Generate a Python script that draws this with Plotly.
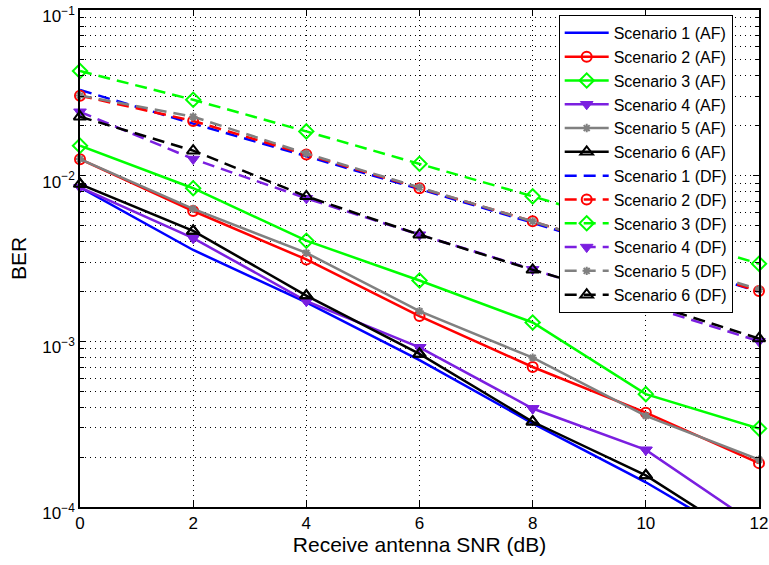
import plotly.graph_objects as go

snr = [0, 2, 4, 6, 8, 10, 12]

s1_af = [0.0085, 0.00356, 0.00172, 0.00077, 0.00032, 0.000141, 0.000056]
s2_af = [0.01257, 0.00612, 0.00312, 0.00142, 0.00070, 0.000371, 0.000184]
s3_af = [0.01515, 0.0084, 0.00405, 0.00233, 0.00130, 0.00048, 0.000298]
s4_af = [0.0085, 0.0042, 0.00175, 0.00092, 0.000393, 0.000221, 0.000076]
s5_af = [0.0126, 0.0063, 0.00342, 0.00152, 0.000797, 0.000355, 0.000193]
s6_af = [0.0089, 0.00464, 0.00189, 0.00084, 0.000327, 0.000155, 0.000057]

s1_df = [0.0329, 0.0206, 0.0131, 0.0083, 0.0052, 0.0032, 0.00200]
s2_df = [0.0304, 0.0214, 0.0134, 0.0084, 0.0053, 0.00325, 0.00201]
s3_df = [0.0428, 0.0287, 0.0185, 0.0118, 0.0075, 0.0047, 0.00294]
s4_df = [0.0243, 0.0126, 0.0073, 0.0044, 0.00272, 0.00165, 0.00100]
s5_df = [0.0305, 0.0227, 0.0136, 0.0085, 0.0053, 0.0033, 0.00206]
s6_df = [0.0227, 0.01416, 0.0075, 0.0044, 0.0027, 0.00171, 0.00104]

names = ["Scenario 1 (AF)", "Scenario 2 (AF)", "Scenario 3 (AF)", "Scenario 4 (AF)",
         "Scenario 5 (AF)", "Scenario 6 (AF)", "Scenario 1 (DF)", "Scenario 2 (DF)",
         "Scenario 3 (DF)", "Scenario 4 (DF)", "Scenario 5 (DF)", "Scenario 6 (DF)"]
series = [s1_af, s2_af, s3_af, s4_af, s5_af, s6_af, s1_df, s2_df, s3_df, s4_df, s5_df, s6_df]

colors = ["#0000FF", "#FF0000", "#00FF00", "#7B1FE0", "#808080", "#000000"]
symbols = [None, "circle-open", "diamond-open", "triangle-down", "asterisk-open", "triangle-up-open"]
msizes = [0, 10, 11, 11, 7, 11]

yticks = [1e-4, 1e-3, 1e-2, 1e-1]
yticktext = ["10<sup>\u22124</sup>", "10<sup>\u22123</sup>", "10<sup>\u22122</sup>", "10<sup>\u22121</sup>"]
xticks = [0, 2, 4, 6, 8, 10, 12]

minor_vals = [m * 10 ** e for e in (-4, -3, -2) for m in range(2, 10)]

ymin, ymax = 1e-4, 1e-1

fig = go.Figure()
for i, (name, ys) in enumerate(zip(names, series)):
    k = i % 6
    dash = "solid" if i < 6 else "12px,7px"
    col = colors[k]
    sym = symbols[k]
    if sym is None:
        mode = "lines"
        marker = dict()
    else:
        mode = "lines+markers"
        if sym.endswith("-open"):
            marker = dict(symbol=sym, size=msizes[k], color=col, line=dict(color=col, width=2))
        else:
            marker = dict(symbol=sym, size=msizes[k], color=col, line=dict(color=col, width=1))
    out_of_range = any(v < ymin for v in ys)
    fig.add_trace(go.Scatter(
        x=snr, y=ys, name=name, mode=mode,
        line=dict(color=col, width=2.5, dash=dash),
        marker=marker,
        cliponaxis=out_of_range,
    ))
    if out_of_range and sym is not None:
        xin = [x for x, v in zip(snr, ys) if v >= ymin]
        yin = [v for v in ys if v >= ymin]
        fig.add_trace(go.Scatter(
            x=xin, y=yin, mode="markers", marker=marker,
            showlegend=False, cliponaxis=False, hoverinfo="skip",
        ))

font_family = "Liberation Sans, Arial, Helvetica, sans-serif"
grid_dash = "1px,4px"

fig.update_layout(
    width=769, height=565,
    margin=dict(l=80, r=10, t=10, b=58, autoexpand=False),
    paper_bgcolor="white", plot_bgcolor="white",
    font=dict(family=font_family, size=17, color="black"),
    showlegend=True,
    legend=dict(
        x=0.705, y=0.99, xanchor="left", yanchor="top",
        bgcolor="white", bordercolor="black", borderwidth=1,
        font=dict(family=font_family, size=16, color="black"),
        itemwidth=44, tracegroupgap=0,
    ),
    xaxis=dict(
        range=[0, 12], tickvals=xticks, ticktext=[str(v) for v in xticks],
        showgrid=True, gridcolor="black", griddash=grid_dash, gridwidth=1,
        showline=True, linecolor="black", linewidth=1.5, mirror="allticks",
        ticks="inside", ticklen=6, tickcolor="black", zeroline=False,
        title=dict(text="Receive antenna SNR (dB)", font=dict(size=21), standoff=5),
        tickfont=dict(size=17), automargin=False, ticklabeloverflow="allow",
    ),
    yaxis=dict(
        type="log", range=[-4, -1], tickvals=yticks, ticktext=yticktext,
        showgrid=True, gridcolor="black", griddash=grid_dash, gridwidth=1,
        showline=True, linecolor="black", linewidth=1.5, mirror="allticks",
        ticks="inside", ticklen=6, tickcolor="black", zeroline=False,
        minor=dict(tickvals=minor_vals, showgrid=True, gridcolor="black", griddash=grid_dash,
                   gridwidth=1, ticks="inside", ticklen=4, tickcolor="black"),
        title=dict(text="BER", font=dict(size=21), standoff=10),
        tickfont=dict(size=17), automargin=False, ticklabeloverflow="allow",
        ticklabelshift=6,
    ),
)

fig.write_html(
    "out.html",
    config={"displayModeBar": False},
    post_script="document.body.style.margin='0';document.body.style.padding='0';",
)
